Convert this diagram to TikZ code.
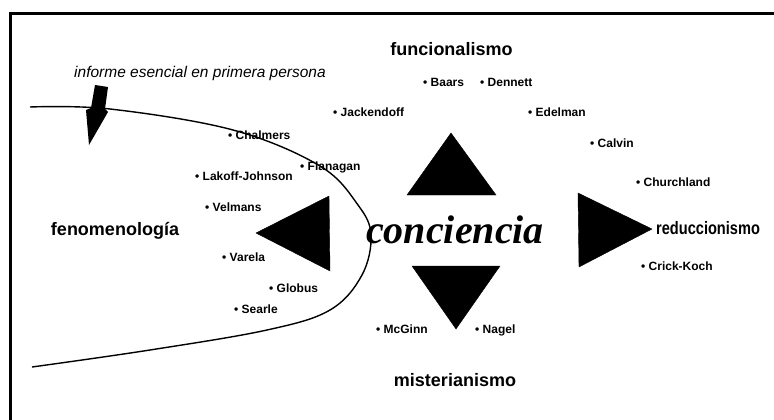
\documentclass[tikz,border=0pt]{standalone}
\usepackage{fontspec}
\setmainfont{Liberation Sans}
\newfontfamily\serifbi{Liberation Serif}
\begin{document}
\begin{tikzpicture}[x=1pt,y=-1pt,
  pname/.style={anchor=base west,inner sep=0pt,font=\fontsize{12}{14}\selectfont\bfseries},
  school/.style={anchor=base,inner sep=0pt,font=\fontsize{18}{20}\selectfont\bfseries},
  tri/.style={fill=black,draw=black,line width=0.4pt}]
\useasboundingbox (0,0) rectangle (774,420);
\fill[white] (0,0) rectangle (774,420);
% frame (top and left)
\draw[line width=3pt] (10.7,420) -- (10.7,14) -- (774,14);
% curve
\draw[line width=1.4pt] plot[smooth,tension=0.6] coordinates {(30,107) (110,109) (233,130) (320,166) (358,205) (371,235) (362,275) (330,310) (267,330) (150,350) (32,367)};
% block arrow
\fill (95,85) -- (108,87) -- (105,109) -- (108,112) -- (89,145) -- (86,110) -- (91,108) -- cycle;
\node[anchor=base,inner sep=0pt,font=\fontsize{15.5}{18}\selectfont\itshape] (inf) at (200,77.5) {informe esencial en primera persona};
% triangles
\fill[tri] (451,133) -- (496,195) -- (407,195) -- cycle;
\fill[tri] (256,233) -- (329,196) -- (330,271) -- cycle;
\fill[tri] (578,193) -- (652,229) -- (579,267) -- cycle;
\fill[tri] (412,266) -- (500,266) -- (456,329) -- cycle;
% central word
\node[anchor=base,inner sep=0pt,font=\serifbi\fontsize{40}{44}\selectfont\bfseries\itshape] (conc) at (455,243) {conciencia};
% schools
\node[school] (fun) at (451.5,55.5) {funcionalismo};
\node[school] (fen) at (115,235.5) {fenomenología};
\node[school] (mis) at (455,386.5) {misterianismo};
\node[anchor=base west,inner sep=0pt,font=\fontsize{18}{20}\selectfont\bfseries] (red) at (656,234.5) {\scalebox{0.81}[1]{reduccionismo}};
% names
\node[pname] (baars) at (423,86) {• Baars};
\node[pname] (dennett) at (480,86) {• Dennett};
\node[pname] (jack) at (333,117) {• Jackendoff};
\node[pname] (edel) at (528,117) {• Edelman};
\node[pname] (calvin) at (590,147) {• Calvin};
\node[pname] (church) at (636,186) {• Churchland};
\node[pname] (chal) at (228,139) {• Chalmers};
\node[pname] (flan) at (300,170) {• Flanagan};
\node[pname] (lakoff) at (195,180) {• Lakoff-Johnson};
\node[pname] (velm) at (205,211) {• Velmans};
\node[pname] (var) at (222,261) {• Varela};
\node[pname] (glob) at (269,292) {• Globus};
\node[pname] (sear) at (234,313) {• Searle};
\node[pname] (mcg) at (376,333) {• McGinn};
\node[pname] (nag) at (475,333) {• Nagel};
\node[pname] (crick) at (641,270) {• Crick-Koch};
\end{tikzpicture}
\end{document}
